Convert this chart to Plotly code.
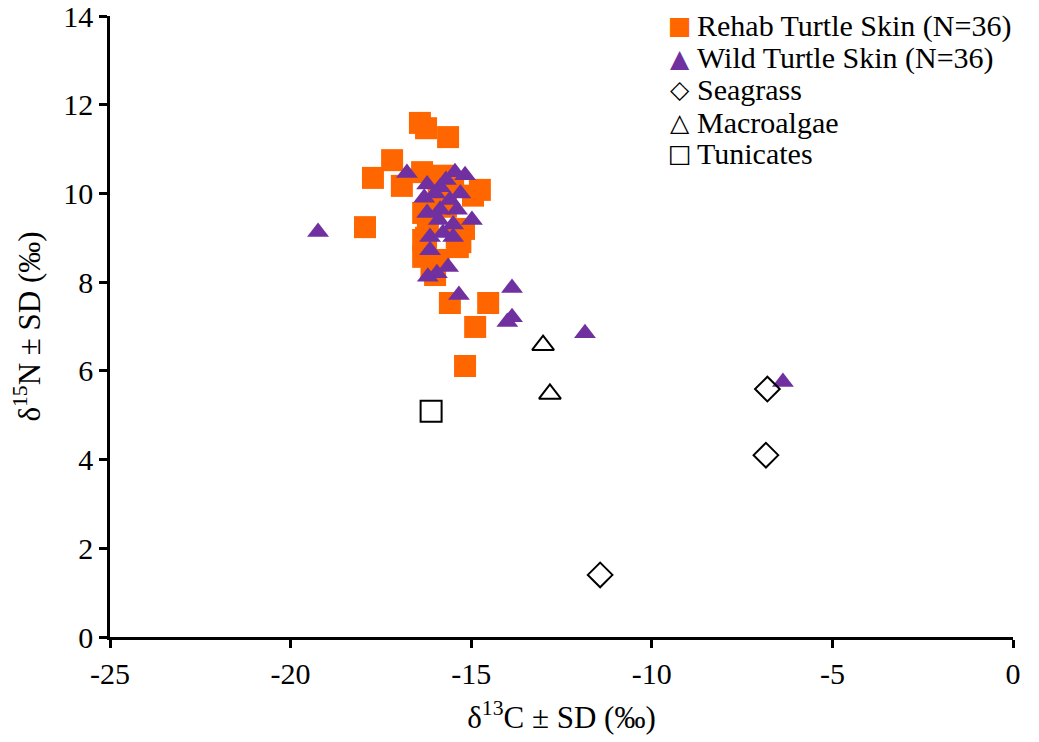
import plotly.graph_objects as go

rehab_x = [-16.42, -16.25, -15.64, -17.19, -17.72, -17.94, -16.92, -16.36, -15.8, -14.76,
           -14.95, -16.33, -16.25, -15.4, -16.33, -15.37, -16.33, -16.0, -15.59, -14.53,
           -14.89, -15.17, -15.9, -15.5, -16.1, -15.2, -15.7, -16.2, -15.3, -15.9]
rehab_y = [11.59, 11.47, 11.27, 10.75, 10.35, 9.24, 10.17, 10.48, 10.4, 10.08,
           9.95, 9.56, 9.0, 9.0, 8.95, 8.79, 8.57, 8.16, 7.53, 7.53,
           6.99, 6.11, 9.9, 10.2, 8.3, 9.2, 9.7, 9.3, 8.9, 8.5]

wild_x = [-19.24, -16.78, -16.22, -15.45, -15.17, -15.86, -15.59, -16.22, -14.98, -15.86,
          -15.39, -16.14, -15.5, -15.78, -16.14, -15.95, -15.64, -16.2, -15.34, -13.87,
          -13.87, -14.0, -11.85, -6.37, -16.0, -15.7, -15.5, -16.3, -15.9, -15.3]
wild_y = [9.13, 10.46, 10.2, 10.48, 10.41, 10.14, 9.85, 9.56, 9.4, 9.63,
          9.63, 9.02, 9.02, 9.11, 8.72, 8.2, 8.34, 8.12, 7.71, 7.87,
          7.21, 7.1, 6.85, 5.75, 10.0, 10.3, 9.3, 9.9, 9.4, 10.0]

seagrass_x = [-6.84, -6.8, -11.43]
seagrass_y = [4.10, 5.59, 1.40]

macro_x = [-13.01, -12.82]
macro_y = [6.58, 5.48]

tunic_x = [-16.11]
tunic_y = [5.09]

x_ticks = [-25, -20, -15, -10, -5, 0]
x_ticklabels = ["-25", "-20", "-15", "-10", "-5", "0"]
y_ticks = [0, 2, 4, 6, 8, 10, 12, 14]
y_ticklabels = ["0", "2", "4", "6", "8", "10", "12", "14"]

legend_names = ["Rehab Turtle Skin (N=36)", "Wild Turtle Skin (N=36)", "Seagrass",
                "Macroalgae", "Tunicates"]
legend_glyphs = ["■", "▲", "◇", "△", "□"]
legend_colors = ["#FF6600", "#7030A0", "black", "black", "black"]

series = [
    (rehab_x, rehab_y, "square", 22, "#FF6600", 0),
    (wild_x, wild_y, "triangle-up", 19, "#7030A0", 0),
    (seagrass_x, seagrass_y, "diamond-open", 19, "black", 2),
    (macro_x, macro_y, "triangle-up-open", 19, "black", 2),
    (tunic_x, tunic_y, "square-open", 21, "black", 2),
]

fig = go.Figure()
for (xs, ys, sym, sz, col, lw), name in zip(series, legend_names):
    fig.add_trace(go.Scatter(x=xs, y=ys, mode="markers", name=name, showlegend=False,
                             marker=dict(symbol=sym, size=sz, color=col,
                                         line=dict(width=lw, color=col))))

font = "Liberation Serif, Times New Roman, serif"
row_y = [0.984, 0.932, 0.881, 0.829, 0.778]
annotations = []
for name, glyph, col, yy in zip(legend_names, legend_glyphs, legend_colors, row_y):
    annotations.append(dict(xref="paper", yref="paper", x=0.631, y=yy, text=glyph,
                            showarrow=False, xanchor="center", yanchor="middle",
                            font=dict(family="DejaVu Sans", size=25, color=col)))
    annotations.append(dict(xref="paper", yref="paper", x=0.648, y=yy, text=name,
                            showarrow=False, xanchor="left", yanchor="middle",
                            font=dict(family=font, size=30, color="black")))

fig.update_layout(
    width=1039, height=742,
    margin=dict(l=110, r=26, t=16, b=105, autoexpand=False),
    paper_bgcolor="white", plot_bgcolor="white",
    font=dict(family=font, size=30, color="black"),
    showlegend=False,
    annotations=annotations,
    xaxis=dict(range=[-25, 0], tickvals=x_ticks, ticktext=x_ticklabels, automargin=False,
               showgrid=False, zeroline=False, showline=True, linecolor="black", linewidth=2.5,
               ticks="outside", ticklen=8, tickwidth=2.5, tickcolor="black",
               ticklabeloverflow="allow",
               tickfont=dict(family=font, size=30),
               title=dict(text="δ<sup>13</sup>C ± SD (‰)", font=dict(family=font, size=31),
                          standoff=18)),
    yaxis=dict(range=[0, 14], tickvals=y_ticks, ticktext=y_ticklabels, automargin=False,
               showgrid=False, zeroline=False, showline=True, linecolor="black", linewidth=2.5,
               ticks="outside", ticklen=8, tickwidth=2.5, tickcolor="black",
               ticklabeloverflow="allow",
               tickfont=dict(family=font, size=30),
               title=dict(text="δ<sup>15</sup>N ± SD (‰)", font=dict(family=font, size=31),
                          standoff=14)),
)
fig.write_html("out.html")
